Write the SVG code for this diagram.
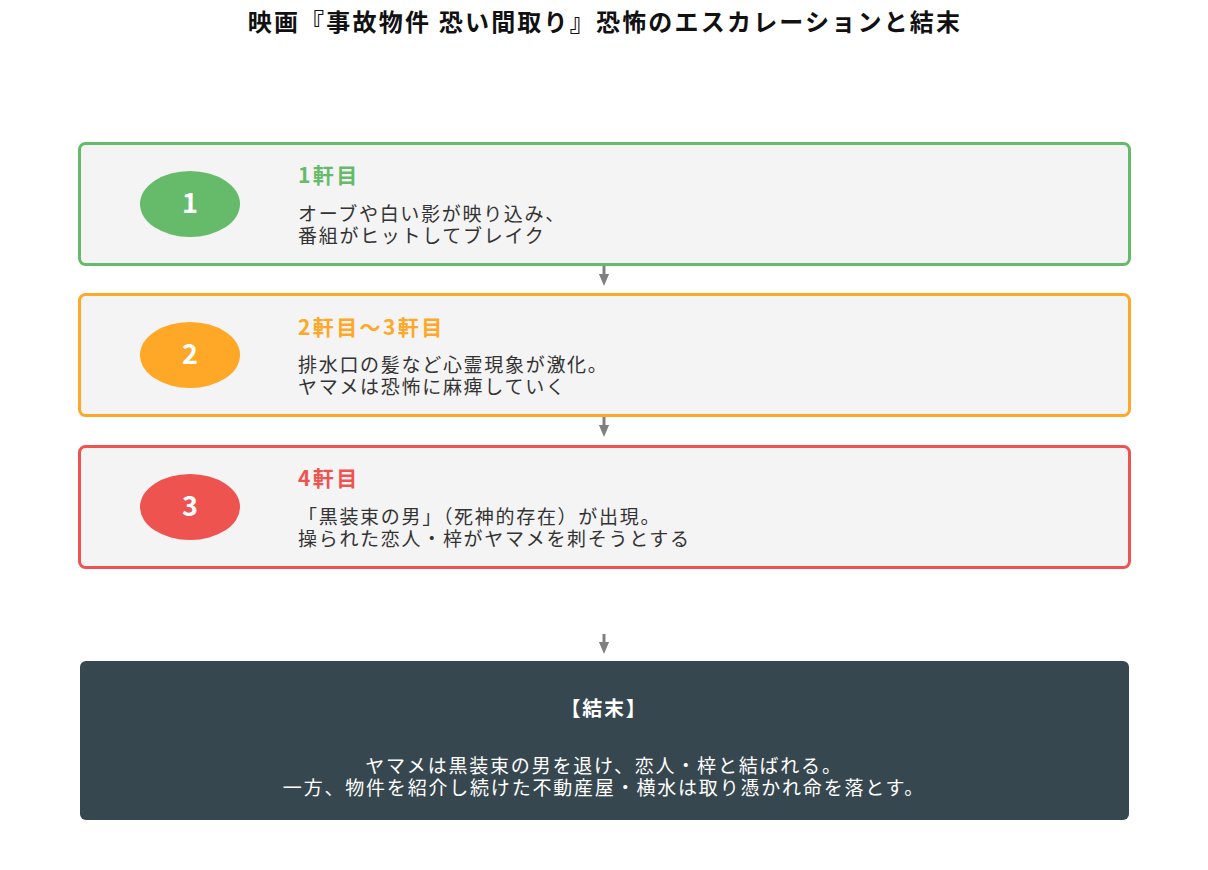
<svg xmlns="http://www.w3.org/2000/svg" width="1208" height="870" viewBox="0 0 1208 870">
<defs>
<style>
text{font-family:"Noto Sans CJK JP","Noto Sans",sans-serif}
.title{font-size:24px;font-weight:bold;fill:#111;text-anchor:middle;letter-spacing:2.2px}
.box{fill:#f4f4f4;stroke-width:3}
.num{font-size:27px;font-weight:bold;fill:#fff;text-anchor:middle}
.head{font-size:21px;font-weight:bold;letter-spacing:2.4px}
.body{font-size:19px;fill:#333;letter-spacing:1.7px}
.end{fill:#37474f}
.endt{fill:#fff;text-anchor:middle;font-size:19px;letter-spacing:1.8px}
.conn{stroke:#808080;stroke-width:3;fill:none}
</style>
<marker id="ah" markerWidth="4" markerHeight="4" refX="2" refY="2" orient="auto" markerUnits="strokeWidth">
<path d="M0,0.3 L4,2 L0,3.7 Z" fill="#808080"/>
</marker>
</defs>
<rect width="1208" height="870" fill="#fff"/>
<text class="title" x="605" y="31">映画『事故物件 恐い間取り』恐怖のエスカレーションと結末</text>

<g id="connectors">
<line class="conn" x1="604" y1="266" x2="604" y2="280" marker-end="url(#ah)"/>
<line class="conn" x1="604" y1="417" x2="604" y2="431" marker-end="url(#ah)"/>
<line class="conn" x1="604" y1="634" x2="604" y2="648" marker-end="url(#ah)"/>
</g>

<g id="node1">
<rect class="box" x="79.5" y="143.5" width="1050" height="121" rx="6" stroke="#66bb6a"/>
<ellipse cx="190" cy="204" rx="50" ry="33" fill="#66bb6a"/>
<text class="num" x="190" y="213">1</text>
<text class="head" x="298" y="183" fill="#66bb6a">1軒目</text>
<text class="body" x="298" y="221">オーブや白い影が映り込み、</text>
<text class="body" x="298" y="243">番組がヒットしてブレイク</text>
</g>

<g id="node2">
<rect class="box" x="79.5" y="294.5" width="1050" height="121" rx="6" stroke="#ffa726"/>
<ellipse cx="190" cy="355" rx="50" ry="33" fill="#ffa726"/>
<text class="num" x="190" y="364">2</text>
<text class="head" x="298" y="335" fill="#ffa726">2軒目～3軒目</text>
<text class="body" x="298" y="372">排水口の髪など心霊現象が激化。</text>
<text class="body" x="298" y="394">ヤマメは恐怖に麻痺していく</text>
</g>

<g id="node3">
<rect class="box" x="79.5" y="446.5" width="1050" height="121" rx="6" stroke="#ef5350"/>
<ellipse cx="190" cy="507" rx="50" ry="33" fill="#ef5350"/>
<text class="num" x="190" y="516">3</text>
<text class="head" x="298" y="486" fill="#ef5350">4軒目</text>
<text class="body" x="298" y="524">「黒装束の男」（死神的存在）が出現。</text>
<text class="body" x="298" y="546">操られた恋人・梓がヤマメを刺そうとする</text>
</g>

<g id="ending">
<rect class="end" x="80" y="661" width="1049" height="159" rx="6"/>
<text class="endt" x="604" y="716" style="font-weight:bold;font-size:20px">【結末】</text>
<text class="endt" x="604" y="773">ヤマメは黒装束の男を退け、恋人・梓と結ばれる。</text>
<text class="endt" x="604" y="795">一方、物件を紹介し続けた不動産屋・横水は取り憑かれ命を落とす。</text>
</g>
</svg>
